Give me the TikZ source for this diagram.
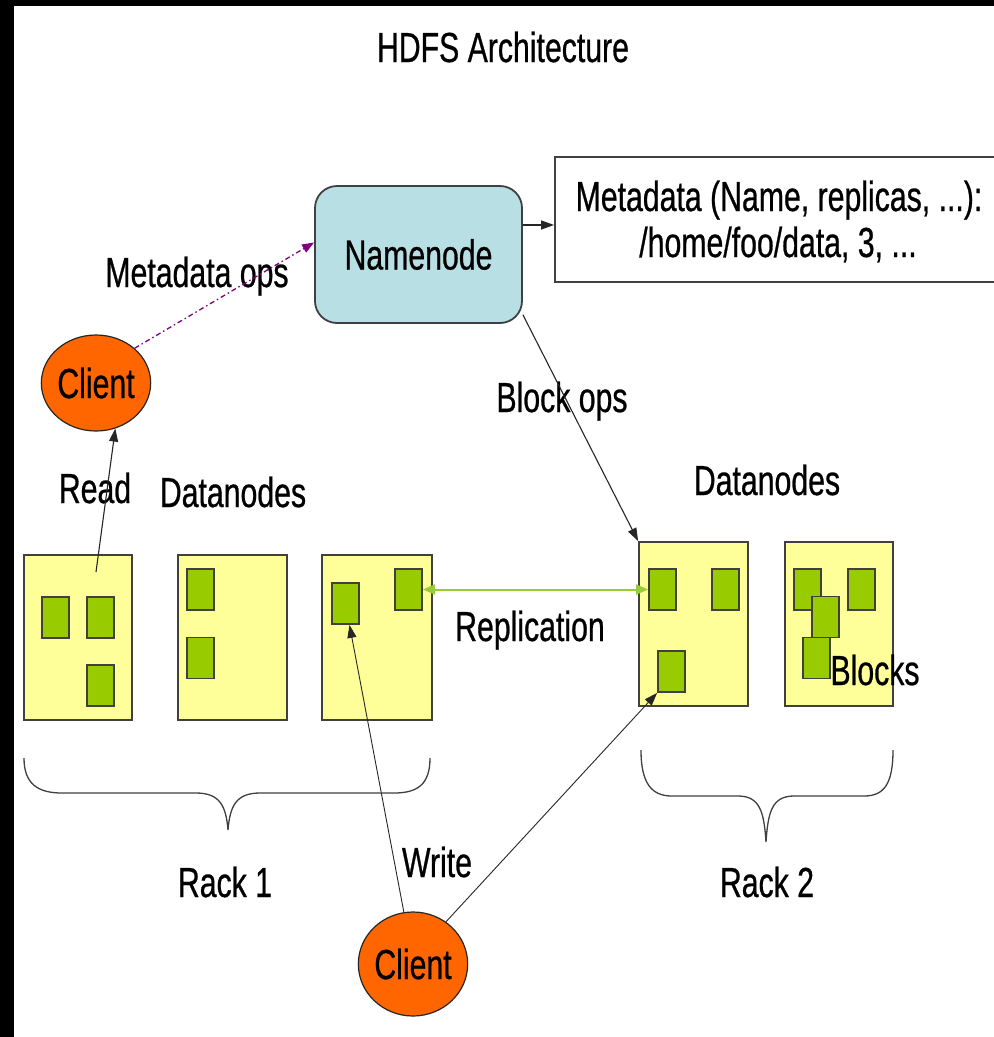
\documentclass[tikz,border=0pt]{standalone}
\usepackage{fontspec}
\setmainfont{Liberation Sans}
\newfontfamily\labfont[FakeStretch=0.72,FakeBold=0.6]{Liberation Sans}
\usetikzlibrary{arrows.meta,shapes.geometric}
\definecolor{nncyan}{HTML}{B8E0E4}
\definecolor{clientorange}{HTML}{FF6600}
\definecolor{boxyellow}{HTML}{FFFF99}
\definecolor{blockgreen}{HTML}{99CC00}
\definecolor{repgreen}{HTML}{9ACD32}
\definecolor{metapurple}{HTML}{800080}
\definecolor{outline}{HTML}{404040}
\tikzset{
  lbl/.style={font=\labfont\fontsize{42}{46}\selectfont, inner sep=0pt, text height=30pt, text depth=0pt},
  rackbox/.style={draw=outline, line width=1.8pt, fill=boxyellow, minimum height=165pt, inner sep=0pt},
  blk/.style={draw=outline, line width=1.8pt, fill=blockgreen, minimum width=27pt, minimum height=41pt, inner sep=0pt},
  client/.style={ellipse, draw=black!85, line width=1.2pt, fill=clientorange, inner sep=0pt},
  arr/.style={draw=black!85, line width=1.1pt, -{Triangle[length=13pt,width=9pt]}},
  brace/.style={draw=outline, line width=1.3pt}
}
\begin{document}
\begin{tikzpicture}[x=1pt,y=-1pt]
\useasboundingbox (0,0) rectangle (994,1037);
\fill[white] (0,0) rectangle (994,1037);
\fill[black] (0,0) rectangle (14,1037);
\fill[black] (0,0) rectangle (994,6);

% title
\node[lbl] (title) at (503,47) {HDFS Architecture};

% namenode and metadata
\node[lbl, draw=outline, line width=1.8pt, fill=nncyan, rounded corners=22pt,
      minimum width=207pt, minimum height=137pt] (nn) at (418.5,254.5) {Namenode};
\node[draw=outline, line width=1.8pt, fill=white, minimum width=450pt, minimum height=125pt, inner sep=0pt] (meta) at (780,219.5) {};
\node[lbl] (meta1) at (779,196) {Metadata (Name, replicas, ...):};
\node[lbl] (meta2) at (778,242) {/home/foo/data, 3, ...};
\draw[arr] (nn.east |- 0,225) -- (meta.west |- 0,225);

% client 1
\node[client, lbl, minimum width=108pt, minimum height=96pt] (c1) at (96,383) {Client};
\node[lbl] (mdops) at (197,272) {Metadata ops};
\draw[metapurple, line width=1.3pt, dash pattern=on 5pt off 3pt on 1.5pt off 3pt,
      -{Triangle[length=12pt,width=9pt]}] (c1.42) -- ([yshift=12pt]nn.west);

% rack 1 datanodes
\node[rackbox, minimum width=108pt] (ra) at (78,637.5) {};
\node[rackbox, minimum width=109pt] (rb) at (232.5,637.5) {};
\node[rackbox, minimum width=110pt] (rc) at (377,637.5) {};
\node[blk] (a1) at (55.5,617.5) {};
\node[blk] (a2) at (100.5,617.5) {};
\node[blk] (a3) at (100.5,685.5) {};
\node[blk] (b1) at (200.5,589.5) {};
\node[blk] (b2) at (200.5,658) {};
\node[blk] (cb1) at (345.5,603.5) {};
\node[blk] (cb2) at (408.5,589.5) {};

% rack 2 datanodes
\node[rackbox, minimum width=109pt, minimum height=164pt] (rd) at (693.5,624) {};
\node[rackbox, minimum width=108pt, minimum height=164pt] (re) at (839,624) {};
\node[blk] (d1) at (662.5,589.5) {};
\node[blk] (d2) at (725.5,589.5) {};
\node[blk] (d3) at (671.5,671.5) {};
\node[blk] (e1) at (807.5,589.5) {};
\node[blk] (e2) at (861.5,589.5) {};
\node[blk] (e3) at (825.5,617) {};
\node[blk] (e4) at (816.5,658) {};

% labels
\node[lbl] (read) at (95,488) {Read};
\node[lbl] (dn1) at (233,492) {Datanodes};
\node[lbl] (bops) at (562,397) {Block ops};
\node[lbl] (dn2) at (767,480) {Datanodes};
\node[lbl] (repl) at (530,626) {Replication};
\node[lbl] (blocks) at (875,670) {Blocks};
\node[lbl] (rack1) at (225,882) {Rack 1};
\node[lbl] (write) at (437,862) {Write};
\node[lbl] (rack2) at (767,882) {Rack 2};

% client 2
\node[client, lbl, minimum width=108pt, minimum height=104pt] (c2) at (413,964) {Client};

% connectors
\coordinate (rdstart) at (96,572);
\draw[arr] (rdstart) -- (c1.-67);
\draw[arr] (nn.-30) -- (rd.north west);
\draw[repgreen, line width=2pt, {Triangle[length=12pt,width=10pt]}-{Triangle[length=12pt,width=10pt]}] (cb2.east) -- (d1.west);
\draw[arr, line width=0.9pt] (c2.100) -- ([xshift=4pt]cb1.south);
\draw[arr, line width=0.9pt] (c2.52) -- (d3.south west);

% braces
\draw[brace] (24,758) .. controls (24,784) and (38,793) .. (62,793) -- (196,793)
  .. controls (220,793) and (226,806) .. (228,830)
  .. controls (230,806) and (236,793) .. (260,793) -- (394,793)
  .. controls (418,793) and (430,784) .. (430,758);
\draw[brace] (641,750) .. controls (641,784) and (652,796) .. (672,796) -- (738,796)
  .. controls (760,796) and (764,812) .. (766,842)
  .. controls (768,812) and (772,796) .. (794,796) -- (864,796)
  .. controls (884,796) and (893,784) .. (893,750);
\end{tikzpicture}
\end{document}
